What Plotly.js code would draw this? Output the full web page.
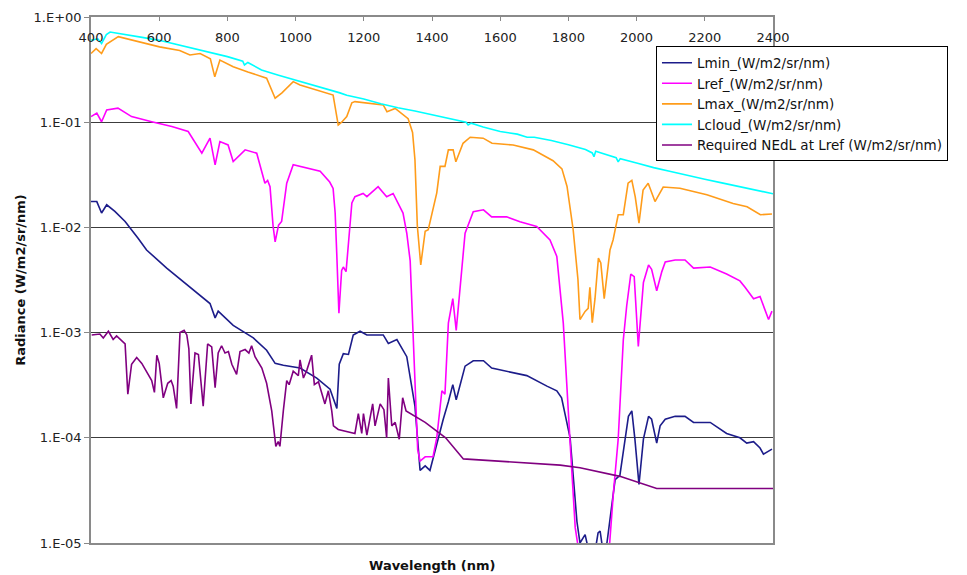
<!DOCTYPE html>
<html>
<head>
<meta charset="utf-8">
<script src="https://cdn.plot.ly/plotly-3.0.1.min.js"></script>
<style>
  body { margin: 0; background: #fff; }
  #chart { width: 967px; height: 575px; }
</style>
</head>
<body>
<div id="chart"></div>
<script>
// tick labels
var xTicks = [400, 600, 800, 1000, 1200, 1400, 1600, 1800, 2000, 2200, 2400];
var yTicks = [1, 0.1, 0.01, 0.001, 0.0001, 0.00001];
var yTickText = ['1.E+00', '1.E-01', '1.E-02', '1.E-03', '1.E-04', '1.E-05'];

// series names
var names = ['Lmin_(W/m2/sr/nm)', 'Lref_(W/m2/sr/nm)', 'Lmax_(W/m2/sr/nm)',
             'Lcloud_(W/m2/sr/nm)', 'Required NEdL at Lref (W/m2/sr/nm)'];

// Lmin
var wlMin = [400,417,431,446,470,500,538,563,622,690,749,764,773,817,876,915,940,964,1013,1062,
  1101,1121,1128,1140,1155,1169,1189,1209,1257,1272,1297,1326,1350,1365,1380,1394,1414,1433,1448,1461,
  1471,1482,1497,1521,1551,1575,1619,1678,1737,1766,1780,1795,1805,1815,1825,1834,1849,1856,1870,1880,
  1887,1893,1900,1913,1927,1937,1951,1966,1976,1986,1995,2007,2020,2035,2044,2059,2069,2084,2113,2142,
  2167,2216,2264,2303,2323,2343,2362,2372,2397];
var lMin = [0.0176,0.0176,0.0137,0.0164,0.0142,0.0114,0.0079,0.0061,0.0041,0.0027,0.00189,0.00138,0.0016,0.00117,8.9e-4,6.8e-4,5.1e-4,4.9e-4,4.6e-4,3.7e-4,
  2.9e-4,1.9e-4,5e-4,6.3e-4,6.2e-4,9.5e-4,1.03e-3,9.5e-4,9.5e-4,7.9e-4,8.6e-4,5.9e-4,2e-4,4.9e-5,5.4e-5,4.9e-5,8.9e-5,1.5e-4,2.2e-4,3.2e-4,
  2.3e-4,3.1e-4,4.8e-4,5.4e-4,5.4e-4,4.6e-4,4.3e-4,3.9e-4,3.1e-4,2.8e-4,2.4e-4,1.4e-4,1.0e-4,4e-5,1.6e-5,1.0e-5,1.2e-5,9.5e-6,8e-6,9e-6,
  1.25e-5,1.3e-5,9e-6,1.0e-5,2.2e-5,4e-5,4.4e-5,9.7e-5,1.6e-4,1.8e-4,9.7e-5,3.6e-5,9.7e-5,1.6e-4,1.5e-4,8.9e-5,1.3e-4,1.5e-4,1.6e-4,1.6e-4,
  1.4e-4,1.4e-4,1.1e-4,1.0e-4,8.9e-5,9.2e-5,8e-5,7e-5,7.8e-5];

// Lref
var wlRef = [400,417,431,446,479,519,578,637,685,725,749,764,778,802,817,852,886,910,918,925,
  934,940,950,959,974,993,1072,1100,1110,1116,1121,1127,1135,1140,1148,1165,1174,1198,1209,1242,
  1267,1286,1315,1326,1336,1350,1358,1365,1380,1403,1414,1429,1438,1448,1461,1471,1482,1497,1521,1551,
  1575,1619,1658,1707,1746,1766,1785,1795,1805,1820,1829,1920,1932,1946,1961,1971,1983,1993,2005,2020,
  2035,2044,2059,2074,2084,2113,2142,2167,2216,2264,2303,2318,2343,2362,2387,2397];
var lRef = [0.113,0.122,0.101,0.131,0.136,0.113,0.101,0.091,0.0815,0.0507,0.0705,0.0393,0.0655,0.0608,0.0423,0.0546,0.0507,0.0263,0.028,0.0244,
  0.0103,0.0073,0.0105,0.0114,0.0263,0.0394,0.0342,0.027,0.0235,0.0137,0.0053,0.00153,0.0039,0.0042,0.0038,0.0171,0.0196,0.021,0.0196,0.0244,
  0.0196,0.021,0.0137,0.0088,0.0048,2.9e-4,7.7e-5,6e-5,6.6e-5,6.6e-5,1.0e-4,2.8e-4,2.6e-4,1.23e-3,2.1e-3,1.05e-3,2.6e-3,8.8e-3,0.0141,0.0147,
  0.0126,0.0126,0.0113,0.0102,0.0076,0.0053,1.23e-3,2.9e-4,9e-5,1.4e-5,9e-6,9e-6,3e-5,9.7e-5,8.5e-4,1.8e-3,3.6e-3,3.4e-3,7.4e-4,3.0e-3,
  4.4e-3,4.0e-3,2.5e-3,3.8e-3,4.7e-3,4.9e-3,4.9e-3,4.1e-3,4.2e-3,3.6e-3,3.1e-3,2.7e-3,2.1e-3,2.2e-3,1.33e-3,1.6e-3];

// Lmax
var wlMax = [400,415,431,445,480,540,601,660,690,720,750,763,778,817,847,860,915,940,960,993,
  1013,1110,1125,1135,1150,1165,1174,1257,1268,1292,1330,1343,1350,1357,1367,1380,1389,1414,1424,1438,
  1448,1462,1470,1491,1512,1550,1576,1638,1697,1737,1755,1781,1796,1814,1828,1834,1849,1858,1863,1870,
  1878,1888,1895,1905,1913,1922,1931,1946,1961,1975,1986,1996,2007,2019,2034,2054,2078,2127,2206,2283,
  2324,2363,2397];
var lMax = [0.45,0.50,0.45,0.55,0.65,0.58,0.52,0.48,0.435,0.45,0.40,0.27,0.39,0.337,0.314,0.30,0.262,0.169,0.19,0.243,
  0.226,0.181,0.094,0.10,0.113,0.153,0.157,0.146,0.126,0.135,0.108,0.08,0.044,0.0103,0.0044,0.0092,0.0095,0.0213,0.038,0.038,
  0.0546,0.0546,0.042,0.063,0.072,0.0705,0.063,0.0607,0.0546,0.0458,0.043,0.036,0.0245,0.0095,0.0032,0.00133,0.00159,0.0017,0.0027,0.00124,
  0.0021,0.0051,0.0046,0.0021,0.0037,0.0061,0.0076,0.0132,0.0132,0.0263,0.028,0.0195,0.011,0.0227,0.0263,0.0176,0.0242,0.0236,0.0204,0.0169,
  0.0157,0.0132,0.0134];

// Lcloud
var wlCloud = [400,420,431,445,456,480,500,550,600,650,700,750,800,845,850,860,900,950,1000,1050,
  1100,1130,1150,1200,1250,1300,1350,1400,1450,1500,1506,1515,1550,1594,1600,1650,1679,1700,1750,1800,
  1850,1870,1875,1880,1900,1940,1946,1952,2000,2050,2100,2150,2200,2250,2300,2350,2400];
var lCloud = [0.60,0.62,0.56,0.68,0.72,0.70,0.69,0.64,0.60,0.55,0.50,0.46,0.42,0.38,0.35,0.37,0.314,0.28,0.252,0.225,
  0.203,0.19,0.18,0.166,0.15,0.137,0.128,0.118,0.108,0.100,0.094,0.098,0.09,0.082,0.0815,0.077,0.072,0.072,0.067,0.061,
  0.055,0.051,0.047,0.053,0.0507,0.046,0.042,0.045,0.041,0.037,0.034,0.031,0.0287,0.0265,0.0245,0.0225,0.0209];

// Required NEdL at Lref
var wlNedl = [402,426,436,451,465,475,500,508,519,534,549,578,586,593,600,612,625,635,641,651,
  661,673,681,687,693,705,715,729,742,754,764,773,783,793,803,813,827,837,852,863,
  871,881,901,915,930,942,949,954,964,974,981,993,1008,1013,1023,1033,1047,1055,1067,1086,
  1096,1106,1111,1125,1174,1184,1194,1199,1209,1226,1233,1248,1259,1267,1272,1282,1292,1304,1314,1324,
  1380,1440,1492,1658,1776,1834,1951,2059,2400];
var lNedl = [9.5e-4,9.7e-4,8.9e-4,1.03e-3,8.6e-4,9.3e-4,7.8e-4,2.6e-4,5e-4,5.8e-4,5.1e-4,3.5e-4,2.7e-4,6.1e-4,5.1e-4,2.4e-4,3.3e-4,3.5e-4,3.1e-4,1.9e-4,
  1e-3,1.05e-3,9.5e-4,7e-4,2.1e-4,6.4e-4,6.2e-4,2e-4,7.8e-4,7.3e-4,3e-4,6.4e-4,7.5e-4,6.4e-4,6.6e-4,5e-4,4e-4,6.6e-4,6.9e-4,6.4e-4,
  7.5e-4,5.9e-4,4.6e-4,3.3e-4,1.8e-4,8.3e-5,9.2e-5,8.3e-5,1.8e-4,3.5e-4,3.2e-4,4.3e-4,3.9e-4,5.5e-4,3.7e-4,4.4e-4,6.1e-4,3.2e-4,3.4e-4,2.1e-4,
  2.8e-4,1.8e-4,1.3e-4,1.2e-4,1.1e-4,1.7e-4,1.1e-4,1.7e-4,1.06e-4,2.1e-4,1.3e-4,2.1e-4,1.85e-4,1e-4,3.7e-4,1.3e-4,1.4e-4,9.7e-5,2.4e-4,1.8e-4,
  1.4e-4,1.0e-4,6.3e-5,5.8e-5,5.5e-5,5.2e-5,4.3e-5,3.3e-5,3.3e-5];

var font = 'DejaVu Sans, Verdana, sans-serif';

function line(x, y, name, color)
{
  return {x: x, y: y, name: name, type: 'scatter', mode: 'lines',
          line: {color: color, width: 1.6}};
}

var data = [
  line(wlMin, lMin, names[0], '#1c1c8a'),
  line(wlRef, lRef, names[1], '#ff00ff'),
  line(wlMax, lMax, names[2], '#ff9c1a'),
  line(wlCloud, lCloud, names[3], '#00ffff'),
  line(wlNedl, lNedl, names[4], '#800080')
];

var layout = {
  width: 967,
  height: 575,
  margin: {l: 91, r: 194, t: 17, b: 32, autoexpand: false},
  paper_bgcolor: '#fff',
  plot_bgcolor: '#fff',
  showlegend: true,
  xaxis: {
    range: [400, 2400],
    side: 'top',
    tickvals: xTicks,
    ticks: 'inside',
    ticklen: 4,
    tickcolor: '#888',
    ticklabelposition: 'inside',
    ticklabeloverflow: 'allow',
    ticklabelstandoff: 12,
    showgrid: false,
    zeroline: false,
    showline: true,
    linecolor: '#8a8a8a',
    linewidth: 1.5,
    mirror: true,
    tickfont: {family: font, size: 13, color: '#222'}
  },
  yaxis: {
    type: 'log',
    range: [-5, 0],
    tickvals: yTicks,
    ticktext: yTickText,
    ticks: 'outside',
    ticklen: 5,
    tickcolor: '#888',
    showgrid: true,
    gridcolor: '#3c3c3c',
    gridwidth: 1,
    showline: true,
    linecolor: '#8a8a8a',
    linewidth: 1.5,
    mirror: true,
    tickfont: {family: font, size: 13, color: '#222'},
    title: {text: 'Radiance (W/m2/sr/nm)', standoff: 5,
            font: {family: font, size: 13, color: '#111', weight: 'bold'}}
  },
  legend: {
    x: 0.8284, y: 0.944, xanchor: 'left', yanchor: 'top',
    bgcolor: '#fff', bordercolor: '#000', borderwidth: 1,
    font: {family: font, size: 13.5, color: '#111'},
    tracegroupgap: 0, itemwidth: 30
  },
  annotations: [{
    text: 'Wavelength (nm)', xref: 'paper', yref: 'paper',
    x: 0.5, y: -0.0437, xanchor: 'center', yanchor: 'middle', showarrow: false,
    font: {family: font, size: 13, color: '#111', weight: 'bold'}
  }]
};

Plotly.newPlot('chart', data, layout, {displayModeBar: false});
</script>
</body>
</html>
